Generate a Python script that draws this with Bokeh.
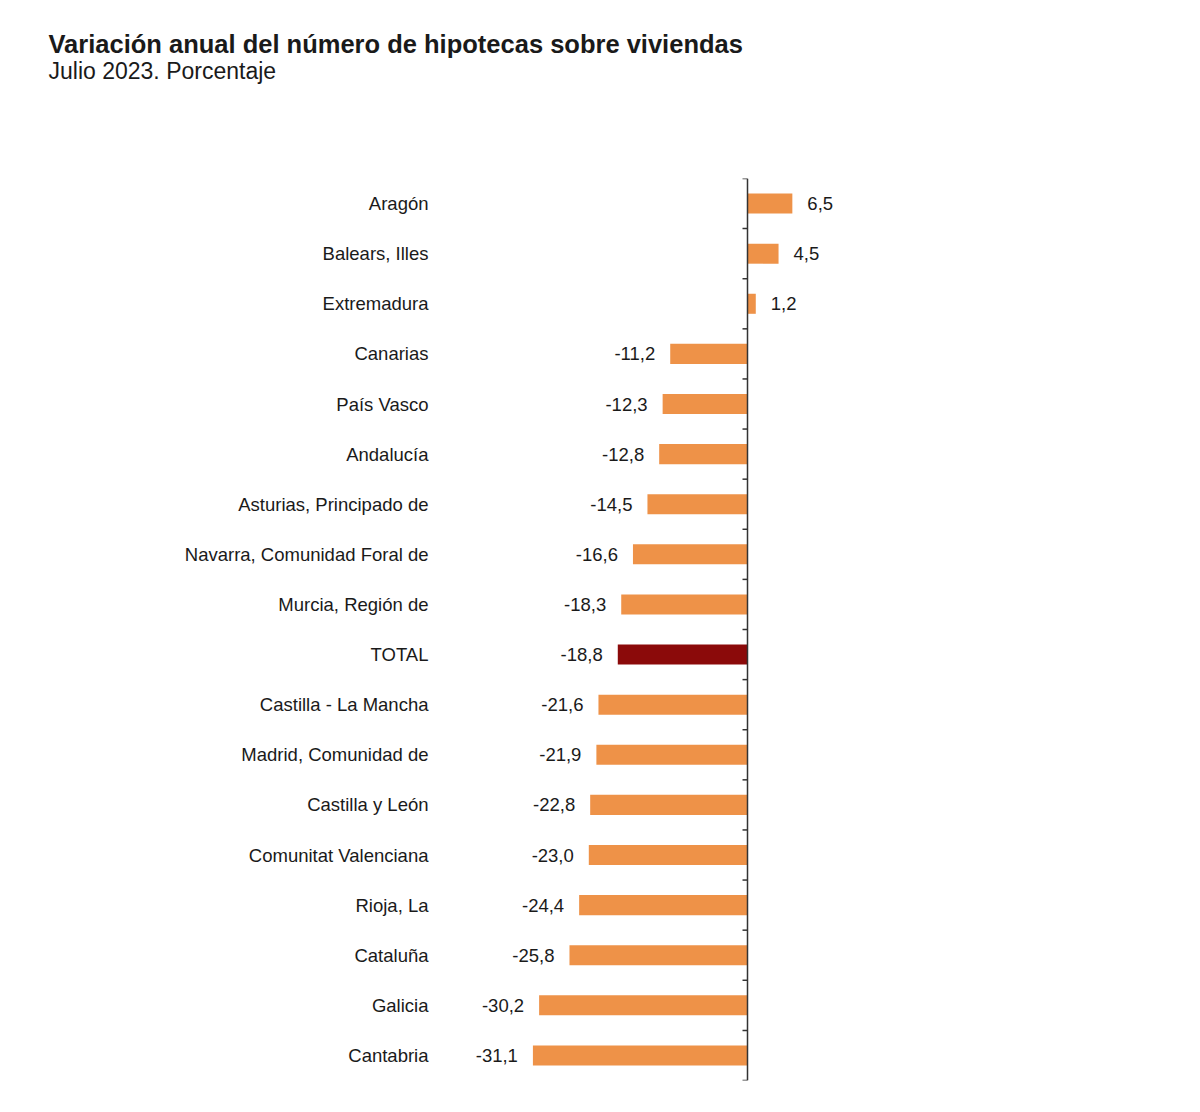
from bokeh.plotting import figure
from bokeh.models import Title, Span, FactorRange, Range1d, ColumnDataSource
from bokeh.core.properties import value
from bokeh.embed import file_html
from bokeh.resources import INLINE

# ---- data ----
regions = ["Aragón", "Balears, Illes", "Extremadura", "Canarias", "País Vasco",
           "Andalucía", "Asturias, Principado de", "Navarra, Comunidad Foral de",
           "Murcia, Región de", "TOTAL", "Castilla - La Mancha",
           "Madrid, Comunidad de", "Castilla y León", "Comunitat Valenciana",
           "Rioja, La", "Cataluña", "Galicia", "Cantabria"]
values = [6.5, 4.5, 1.2, -11.2, -12.3, -12.8, -14.5, -16.6, -18.3, -18.8,
          -21.6, -21.9, -22.8, -23.0, -24.4, -25.8, -30.2, -31.1]
labels = [f"{v:.1f}".replace(".", ",") for v in values]

title_text = "Variación anual del número de hipotecas sobre viviendas"
subtitle_text = "Julio 2023. Porcentaje"

ORANGE = "#EE9248"
DARKRED = "#8B0A0A"
TEXT = "#1a1a1a"
FONT = "Liberation Sans"

colors = [DARKRED if r == "TOTAL" else ORANGE for r in regions]
pos = [v >= 0 for v in values]

src = ColumnDataSource(dict(y=regions, v=values, color=colors))
src_pos = ColumnDataSource(dict(y=[r for r, p_ in zip(regions, pos) if p_],
                                v=[v for v, p_ in zip(values, pos) if p_],
                                t=[l for l, p_ in zip(labels, pos) if p_]))
src_neg = ColumnDataSource(dict(y=[r for r, p_ in zip(regions, pos) if not p_],
                                v=[v for v, p_ in zip(values, pos) if not p_],
                                t=[l for l, p_ in zip(labels, pos) if not p_]))

px_per_unit = 6.9
x_start = -307 / px_per_unit
x_end = 253 / px_per_unit

p = figure(width=1184, height=1104,
           x_range=Range1d(x_start, x_end),
           y_range=FactorRange(factors=regions[::-1], range_padding=0),
           output_backend="svg", toolbar_location=None,
           min_border_left=440, min_border_right=184,
           min_border_top=178, min_border_bottom=24)
p.title.visible = False

# spacer between subtitle and plot frame
p.add_layout(Title(text=" ", align="left", standoff=84,
                   text_font=FONT, text_font_size="10px"), "above")
p.add_layout(Title(text=subtitle_text, align="left", offset=-392,
                   standoff=-4,
                   text_font=FONT, text_font_size="23px",
                   text_font_style="normal", text_color=TEXT), "above")
p.add_layout(Title(text=title_text, align="left", offset=-392,
                   standoff=0,
                   text_font=FONT, text_font_size="25.5px",
                   text_font_style="bold", text_color=TEXT), "above")

p.hbar(y="y", left=0, right="v", height=0.4, color="color", source=src,
       line_color=None)

p.text(x="v", y="y", text="t", source=src_pos, x_offset=15,
       text_align="left", text_baseline="middle",
       text_font=value(FONT), text_font_size="18.5px", text_color=TEXT)
p.text(x="v", y="y", text="t", source=src_neg, x_offset=-15,
       text_align="right", text_baseline="middle",
       text_font=value(FONT), text_font_size="18.5px", text_color=TEXT)

# vertical axis line at zero with ticks at category boundaries
p.add_layout(Span(location=0, dimension="height", line_color="#333333",
                  line_width=1.5))
tick_y = [(r, -0.5) for r in regions] + [(regions[0], 0.5)]
p.segment(x0=[-5 / px_per_unit] * len(tick_y), x1=[0] * len(tick_y),
          y0=tick_y, y1=tick_y, line_color="#333333", line_width=1.5)

p.xaxis.visible = False
p.yaxis.axis_line_color = None
p.yaxis.major_tick_line_color = None
p.yaxis.minor_tick_line_color = None
p.yaxis.major_tick_out = 0
p.yaxis.major_tick_in = 0
p.yaxis.major_label_standoff = 12
p.yaxis.major_label_text_font = FONT
p.yaxis.major_label_text_font_size = "18.5px"
p.yaxis.major_label_text_color = TEXT
p.xgrid.visible = False
p.ygrid.visible = False
p.outline_line_color = None

open("out.html", "w").write(file_html(p, INLINE))
